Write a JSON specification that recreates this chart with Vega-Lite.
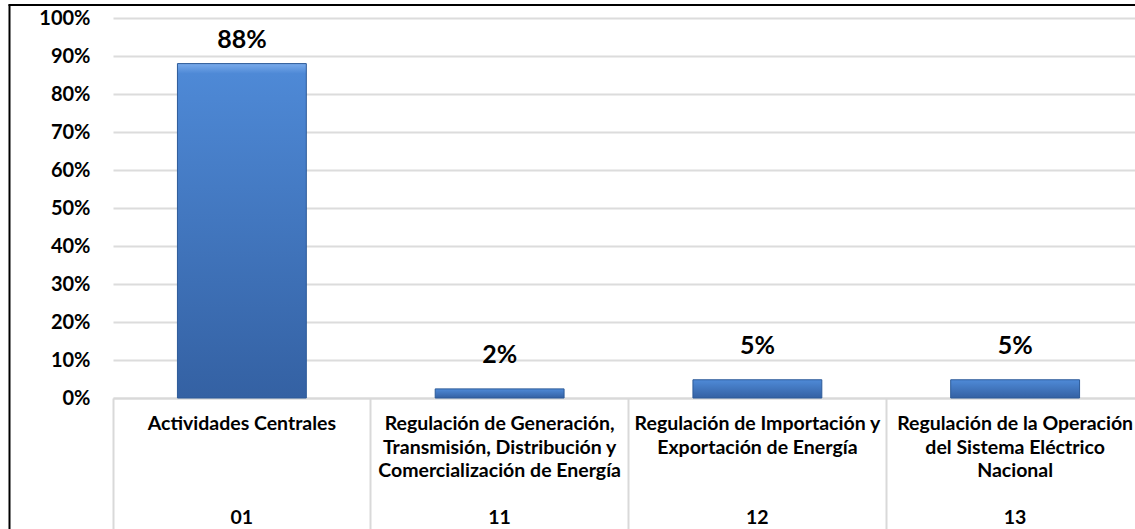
{
  "$schema": "https://vega.github.io/schema/vega-lite/v6.json",
  "width": 1022,
  "height": 380,
  "autosize": {"type": "none"},
  "padding": {"left": 113, "top": 18, "right": 0, "bottom": 131},
  "background": "white",
  "config": {"view": {"stroke": null}, "font": "Lato"},
  "data": {
    "values": [
      {"categoria": "01|Actividades Centrales", "valor": 0.88},
      {"categoria": "11|Regulación de Generación,|Transmisión, Distribución y|Comercialización de Energía", "valor": 0.024},
      {"categoria": "12|Regulación de Importación y|Exportación de Energía", "valor": 0.048},
      {"categoria": "13|Regulación de la Operación|del Sistema Eléctrico|Nacional", "valor": 0.048}
    ]
  },
  "layer": [
    {
      "layer": [
        {
          "mark": {
            "type": "bar",
            "width": {"band": 0.5},
            "stroke": "#2c5a98",
            "strokeWidth": 1,
            "fill": {
              "gradient": "linear",
              "x1": 0, "y1": 0, "x2": 0, "y2": 1,
              "stops": [
                {"offset": 0, "color": "#7aabeb"},
                {"offset": 0.03, "color": "#4e89d6"},
                {"offset": 1, "color": "#3461a3"}
              ]
            }
          },
          "encoding": {
            "x": {
              "field": "categoria",
              "type": "nominal",
              "sort": null,
              "scale": {"range": [0, 1031], "paddingInner": 0, "paddingOuter": 0},
              "axis": {
                "title": null,
                "orient": "bottom",
                "domain": true,
                "domainColor": "#d9d9d9",
                "domainWidth": 2,
                "ticks": true,
                "bandPosition": 0,
                "tickSize": 131,
                "tickColor": "#d9d9d9",
                "tickWidth": 2,
                "grid": false,
                "labelAngle": 0,
                "labelAlign": "center",
                "labelBaseline": "top",
                "labelPadding": -114.4,
                "labelFont": "Lato",
                "labelFontWeight": "bold",
                "labelFontSize": 19.5,
                "labelColor": "#000000",
                "labelLineHeight": 23.5,
                "labelLimit": 0,
                "labelOverlap": false,
                "labelExpr": "slice(split(datum.value,'|'), 1)"
              }
            },
            "y": {
              "field": "valor",
              "type": "quantitative",
              "scale": {"domain": [0, 1]},
              "axis": {
                "title": null,
                "values": [0, 0.1, 0.2, 0.3, 0.4, 0.5, 0.6, 0.7, 0.8, 0.9, 1],
                "format": ".0%",
                "domain": false,
                "ticks": false,
                "grid": true,
                "gridColor": "#dcdcdc",
                "gridWidth": 2,
                "labelPadding": 23,
                "labelFont": "Lato",
                "labelFontWeight": "bold",
                "labelFontSize": 20,
                "labelColor": "#000000",
                "labelOverlap": false
              }
            }
          }
        },
        {
          "mark": {
            "type": "text",
            "font": "Lato",
            "fontWeight": "bold",
            "fontSize": 25,
            "color": "#000000",
            "baseline": "alphabetic",
            "dy": {"expr": "datum.valor > 0.5 ? -16 : -26"}
          },
          "encoding": {
            "x": {
              "field": "categoria",
              "type": "nominal",
              "sort": null,
              "axis": {
                "title": null,
                "orient": "bottom",
                "domain": false,
                "ticks": false,
                "grid": false,
                "labelAngle": 0,
                "labelAlign": "center",
                "labelBaseline": "top",
                "labelPadding": 110.6,
                "labelFont": "Lato",
                "labelFontWeight": "bold",
                "labelFontSize": 19.5,
                "labelColor": "#000000",
                "labelLimit": 0,
                "labelOverlap": false,
                "labelExpr": "split(datum.value,'|')[0]"
              }
            },
            "y": {
              "field": "valor",
              "type": "quantitative",
              "axis": {
                "title": null,
                "values": [0, 0.1, 0.2, 0.3, 0.4, 0.5, 0.6, 0.7, 0.8, 0.9, 1],
                "format": ".0%",
                "domain": false,
                "ticks": false,
                "grid": true,
                "gridColor": "#dcdcdc",
                "gridWidth": 2,
                "labelPadding": 23,
                "labelFont": "Lato",
                "labelFontWeight": "bold",
                "labelFontSize": 20,
                "labelColor": "#000000",
                "labelOverlap": false
              }
            },
            "text": {"field": "valor", "type": "quantitative", "format": ".0%"}
          }
        }
      ],
      "resolve": {"axis": {"x": "independent"}}
    },
    {
      "mark": {"type": "point", "opacity": 0},
      "encoding": {
        "x": {
          "field": "valor",
          "type": "quantitative",
          "scale": {"range": [-105, 1022]},
          "axis": {"orient": "top", "offset": 13.5, "domain": true, "domainColor": "#000000", "domainWidth": 2, "labels": false, "ticks": false, "grid": false, "title": null}
        },
        "y": {
          "field": "valor",
          "type": "quantitative",
          "scale": {"range": [511, -14]},
          "axis": {"orient": "left", "offset": 104, "domain": true, "domainColor": "#000000", "domainWidth": 2, "labels": false, "ticks": false, "grid": false, "title": null}
        }
      }
    }
  ],
  "resolve": {
    "scale": {"x": "independent", "y": "independent"},
    "axis": {"x": "independent", "y": "independent"}
  }
}
